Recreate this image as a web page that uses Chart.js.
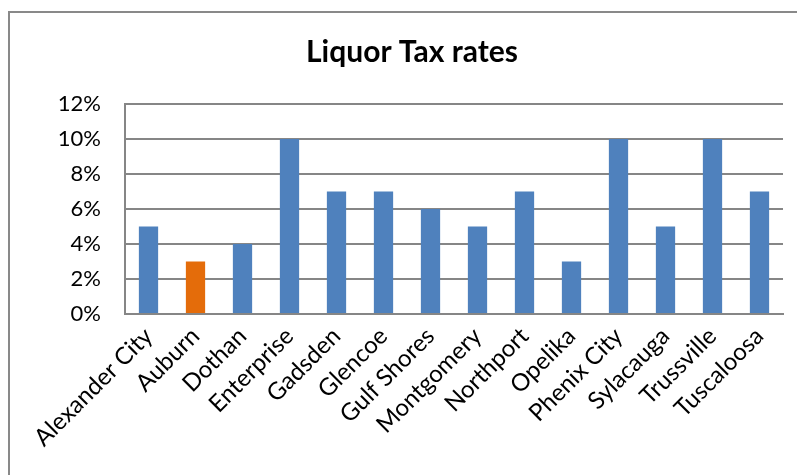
<!DOCTYPE html>
<html>
<head>
<meta charset="utf-8">
<script src="https://cdn.jsdelivr.net/npm/chart.js@4/dist/chart.umd.min.js"></script>
<style>
  html, body { margin: 0; padding: 0; background: #fff; overflow: hidden; }
  #wrap { position: relative; width: 797px; height: 475px; }
  #frame { position: absolute; left: 8px; top: 11px; width: 800px; height: 480px; border: 2px solid #898989; box-sizing: border-box; pointer-events: none; }
  canvas { position: absolute; left: 0; top: 0; }
</style>
</head>
<body>
<div id="wrap">
  <canvas id="c" width="797" height="475"></canvas>
  <div id="frame"></div>
</div>
<script>
const categories = ["Alexander City", "Auburn", "Dothan", "Enterprise", "Gadsden", "Glencoe", "Gulf Shores", "Montgomery", "Northport", "Opelika", "Phenix City", "Sylacauga", "Trussville", "Tuscaloosa"];
const taxRates = [5, 3, 4, 10, 7, 7, 6, 5, 7, 3, 10, 5, 10, 7];
const highlighted = "Auburn";
const yTicks = [0, 2, 4, 6, 8, 10, 12];

const barColors = categories.map(c => c === highlighted ? "#E46C0A" : "#4F81BD");

new Chart(document.getElementById("c"), {
  type: "bar",
  data: {
    labels: categories,
    datasets: [{
      data: taxRates,
      backgroundColor: barColors,
      borderWidth: 0,
      barPercentage: 0.41,
      categoryPercentage: 1.0
    }]
  },
  options: {
    responsive: false,
    animation: false,
    devicePixelRatio: 1,
    layout: { padding: { left: 41, right: 14, top: 0, bottom: 0 } },
    plugins: {
      legend: { display: false },
      tooltip: { enabled: false },
      title: {
        display: true,
        text: "Liquor Tax rates",
        color: "#000",
        font: { family: "Lato", size: 30, weight: "bold" },
        padding: { top: 34, bottom: 34 }
      }
    },
    scales: {
      x: {
        grid: { display: false, drawTicks: false },
        border: { display: true, color: "#868686", width: 2 },
        ticks: {
          color: "#000",
          font: { family: "Lato", size: 24 },
          maxRotation: 45,
          minRotation: 45,
          autoSkip: false,
          padding: 8
        },
        afterFit: (s) => { s.height = 161; }
      },
      y: {
        min: 0,
        max: 12,
        afterBuildTicks: (s) => { s.ticks = yTicks.map(v => ({ value: v })); },
        grid: { color: "#868686", lineWidth: 2, drawTicks: false },
        border: { display: true, color: "#868686", width: 2 },
        ticks: {
          color: "#000",
          font: { family: "Lato", size: 22 },
          padding: 24,
          callback: (v) => v + "%"
        },
        afterFit: (s) => { s.width = 84; }
      }
    }
  }
});
</script>
</body>
</html>
